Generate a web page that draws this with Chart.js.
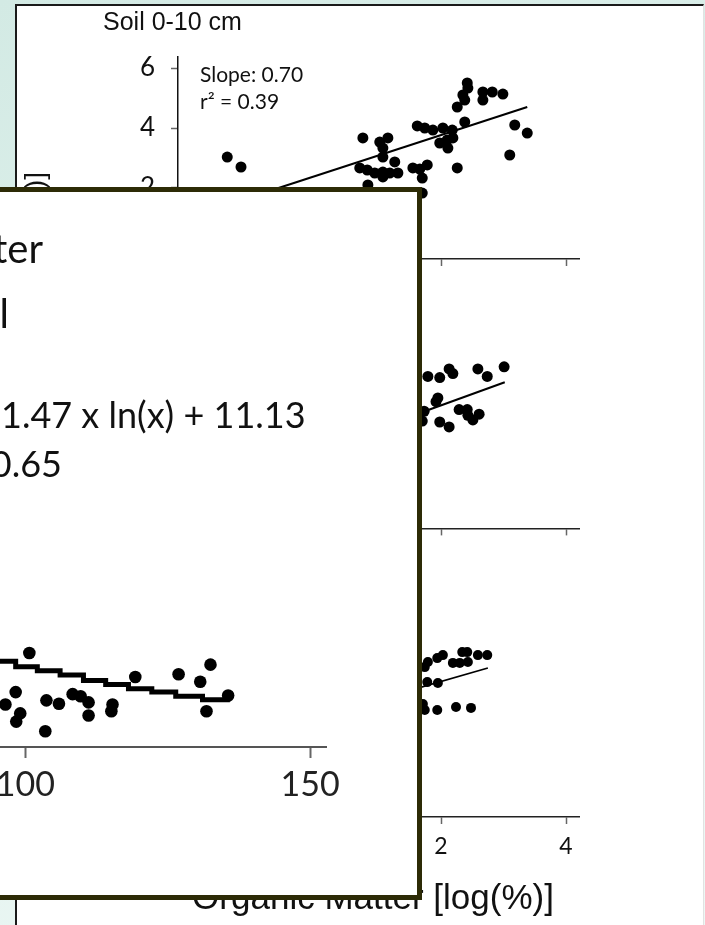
<!DOCTYPE html>
<html>
<head>
<meta charset="utf-8">
<script src="https://cdn.jsdelivr.net/npm/chart.js@4.4.1/dist/chart.umd.min.js"></script>
<style>
  html, body { margin: 0; padding: 0; }
  body {
    width: 705px; height: 925px; overflow: hidden; position: relative;
    background: linear-gradient(160deg, #d3eae4 0%, #e3f3ef 55%, #edf8f5 100%);
  }
  #fondo {
    position: absolute; left: 15px; top: 4px; width: 689px; height: 930px;
    background: #fff; box-sizing: border-box;
    border-left: 2px solid #1a1a1a; border-top: 2px solid #1a1a1a; border-right: 1px solid #e2e2e2;
  }
  canvas { position: absolute; }
  #frente {
    position: absolute; left: -300px; top: 187px; width: 722px; height: 713px;
    background: #fff; box-sizing: border-box; border: 5px solid #2d2b06;
  }
</style>
</head>
<body>
<div id="fondo"></div>
<canvas id="panel1" width="690" height="300" style="left:15px;top:5px"></canvas>
<canvas id="panel2" width="690" height="260" style="left:15px;top:300px"></canvas>
<canvas id="panel3" width="690" height="345" style="left:15px;top:580px"></canvas>
<div id="frente"></div>
<canvas id="grafico_frente" width="600" height="700" style="left:-240px;top:192px"></canvas>

<script>
// Ticks de los ejes
const yTicksAtras = [2, 4, 6];
const xTicksAtras = [2, 4];
const xTicksFrente = [100, 150];

// Panel de arriba (Soil 0-10 cm)
const panel1X = [-1.42, -1.20, 0.75, 1.02, 1.15, 1.07, 1.07, 1.26, 0.70, 0.82, 0.94, 1.07, 1.18, 1.31, 0.83, 1.07,
  1.55, 1.66, 1.78, 1.70, 1.70, 1.62, 1.74, 1.87, 2.03, 2.18, 2.19, 2.10, 1.98, 2.11, 2.26, 2.38, 2.26, 2.35,
  2.43, 2.42, 2.38, 2.67, 2.67, 2.82, 2.99, 3.10, 3.18, 3.38];
const panel1Y = [3.03, 2.70, 3.67, 3.53, 3.67, 3.33, 3.03, 2.87, 2.67, 2.60, 2.50, 2.53, 2.50, 2.50, 2.10, 2.37,
  2.67, 2.63, 2.77, 2.33, 1.83, 4.07, 4.00, 3.93, 4.00, 3.93, 3.67, 3.60, 3.50, 3.33, 2.67, 4.20, 4.70, 5.10,
  5.33, 5.50, 4.93, 4.93, 5.20, 5.20, 5.13, 3.10, 4.10, 3.83];
const panel1LineaX = [-0.60, 3.38];
const panel1LineaY = [2.00, 4.70];

// Panel del medio
const panel2X = [1.79, 1.98, 2.13, 2.19, 2.59, 2.74, 3.01, 1.95, 1.92, 2.29, 2.42, 2.43, 2.51, 2.61, 1.70, 1.98, 2.13, 1.73];
const panel2Y = [4.87, 4.83, 5.13, 4.97, 5.13, 4.87, 5.20, 4.13, 4.00, 3.73, 3.73, 3.53, 3.37, 3.57, 3.33, 3.30, 3.13, 3.67];
const panel2LineaX = [1.20, 3.02];
const panel2LineaY = [3.25, 4.67];

// Panel de abajo
const panel3X = [1.79, 1.74, 1.94, 2.03, 2.19, 2.34, 2.42, 2.30, 2.43, 2.59, 2.74, 1.78, 1.95, 1.74, 1.94, 2.24, 2.48, 1.71];
const panel3Y = [4.80, 4.63, 4.93, 5.03, 4.77, 5.13, 5.13, 4.77, 4.80, 5.03, 5.03, 4.13, 4.10, 3.20, 3.20, 3.30, 3.27, 3.40];
const panel3LineaX = [1.20, 2.75];
const panel3LineaY = [3.67, 4.60];

// Grafico de adelante
const frenteX = [100.7, 98.3, 96.5, 99.1, 98.4, 103.5, 103.7, 105.9, 108.3, 109.7, 111.1, 111.1, 115.3, 115.1,
  119.3, 126.9, 130.7, 132.5, 131.8, 135.6];
const frenteY = [4.57, 4.00, 3.82, 3.69, 3.57, 3.43, 3.88, 3.83, 3.97, 3.94, 3.85, 3.66, 3.82, 3.72,
  4.22, 4.26, 4.15, 4.40, 3.72, 3.95];
const curvaX = [92.7, 98.3, 102.1, 106.1, 110.2, 114.1, 118.1, 122.2, 126.4, 131.1, 135.9];
const curvaY = [4.45, 4.37, 4.31, 4.25, 4.17, 4.11, 4.05, 4.00, 3.94, 3.89, 3.89];

Chart.defaults.font.family = 'Lato';

function puntos(xs, ys) {
  return xs.map((x, i) => ({ x: x, y: ys[i] }));
}

// Plugin para escribir los textos sueltos
const textosPlugin = {
  id: 'textos',
  afterDraw(chart, args, opts) {
    const ctx = chart.ctx;
    (opts.items || []).forEach(t => {
      ctx.save();
      ctx.fillStyle = t.color || '#111';
      ctx.font = t.font;
      ctx.textAlign = t.align || 'left';
      ctx.textBaseline = t.baseline || 'alphabetic';
      ctx.translate(t.x, t.y);
      if (t.rotate) ctx.rotate(t.rotate);
      ctx.fillText(t.text, 0, 0);
      ctx.restore();
    });
  }
};

function crearPanel(id, xs, ys, lineaX, lineaY, o) {
  const ctx = document.getElementById(id).getContext('2d');
  new Chart(ctx, {
    type: 'scatter',
    data: {
      datasets: [
        { data: puntos(xs, ys), backgroundColor: '#000', borderWidth: 0, pointRadius: o.radio },
        { data: puntos(lineaX, lineaY), showLine: true, borderColor: '#000', borderWidth: o.grosor, pointRadius: 0 }
      ]
    },
    options: {
      responsive: false,
      animation: false,
      events: [],
      layout: { padding: o.padding },
      plugins: { legend: { display: false }, tooltip: { enabled: false }, textos: { items: o.textos } },
      scales: {
        x: {
          min: -2.208, max: 4.208,
          afterFit: s => { s.height = o.altoX; },
          afterBuildTicks: s => { s.ticks = xTicksAtras.map(v => ({ value: v })); },
          ticks: { display: o.etiquetasX, font: { size: 23 }, color: '#111', padding: 9 },
          grid: { drawOnChartArea: false, tickLength: 7, tickColor: '#666', tickWidth: 1.5 },
          border: { color: '#222', width: 1.5 }
        },
        y: {
          min: -0.367, max: 6.367,
          afterFit: s => { s.width = 60; },
          afterBuildTicks: s => { s.ticks = yTicksAtras.map(v => ({ value: v })); },
          ticks: { font: { size: 26 }, color: '#111', padding: 16 },
          grid: { drawOnChartArea: false, tickLength: 7, tickColor: '#666', tickWidth: 1.5 },
          border: { color: '#111', width: 1.5 }
        }
      }
    },
    plugins: [textosPlugin]
  });
}

crearPanel('panel1', panel1X, panel1Y, panel1LineaX, panel1LineaY, {
  radio: 5.5, grosor: 2, altoX: 20, etiquetasX: false,
  padding: { left: 103, top: 52, right: 126, bottom: 26 },
  textos: [
    { text: 'Soil 0-10 cm', x: 88, y: 25, font: '25px "Liberation Sans"' },
    { text: 'Slope: 0.70', x: 185, y: 77, font: '21px Lato' },
    { text: 'r² = 0.39', x: 185, y: 104, font: '21px Lato' },
    { text: '[log(%)]', x: 21, y: 167, font: '28px "Liberation Sans"', align: 'right', baseline: 'middle', rotate: -Math.PI / 2 }
  ]
});

crearPanel('panel2', panel2X, panel2Y, panel2LineaX, panel2LineaY, {
  radio: 5.5, grosor: 2, altoX: 20, etiquetasX: false,
  padding: { left: 103, top: 33, right: 126, bottom: 5 },
  textos: []
});

crearPanel('panel3', panel3X, panel3Y, panel3LineaX, panel3LineaY, {
  radio: 5, grosor: 1.7, altoX: 40, etiquetasX: true,
  padding: { left: 103, top: 35, right: 126, bottom: 68 },
  textos: [
    { text: 'Organic Matter [log(%)]', x: 358, y: 329, font: '35px "Liberation Sans"', align: 'center' }
  ]
});

// Grafico de adelante, con la curva escalonada
function crearFrente() {
  const ctx = document.getElementById('grafico_frente').getContext('2d');
  new Chart(ctx, {
    type: 'scatter',
    data: {
      datasets: [
        { data: puntos(frenteX, frenteY), backgroundColor: '#000', borderWidth: 0, pointRadius: 6.3 },
        { data: puntos(curvaX, curvaY), showLine: true, stepped: true, borderColor: '#000', borderWidth: 5, pointRadius: 0 }
      ]
    },
    options: {
      responsive: false,
      animation: false,
      events: [],
      layout: { padding: { left: 0, top: 308, right: 34, bottom: 85 } },
      plugins: {
        legend: { display: false },
        tooltip: { enabled: false },
        textos: {
          items: [
            { text: 'ter', x: 283, y: 71, font: '40px Lato', align: 'right' },
            { text: 'l', x: 249, y: 136, font: '40px Lato', align: 'right' },
            { text: '1.47 x ln(x) + 11.13', x: 241, y: 236, font: '36px Lato' },
            { text: '0.65', x: 302, y: 285, font: '36px Lato', align: 'right' }
          ]
        }
      },
      scales: {
        x: {
          min: 54.52, max: 152.78,
          afterFit: s => { s.height = 60; },
          afterBuildTicks: s => { s.ticks = xTicksFrente.map(v => ({ value: v })); },
          ticks: { font: { size: 34 }, color: '#222', padding: 7 },
          grid: { drawOnChartArea: false, tickLength: 11, tickColor: '#666', tickWidth: 2 },
          border: { color: '#555', width: 2 }
        },
        y: { display: false, min: 3.2, max: 6.8 }
      }
    },
    plugins: [textosPlugin]
  });
}

crearFrente();
</script>
</body>
</html>
